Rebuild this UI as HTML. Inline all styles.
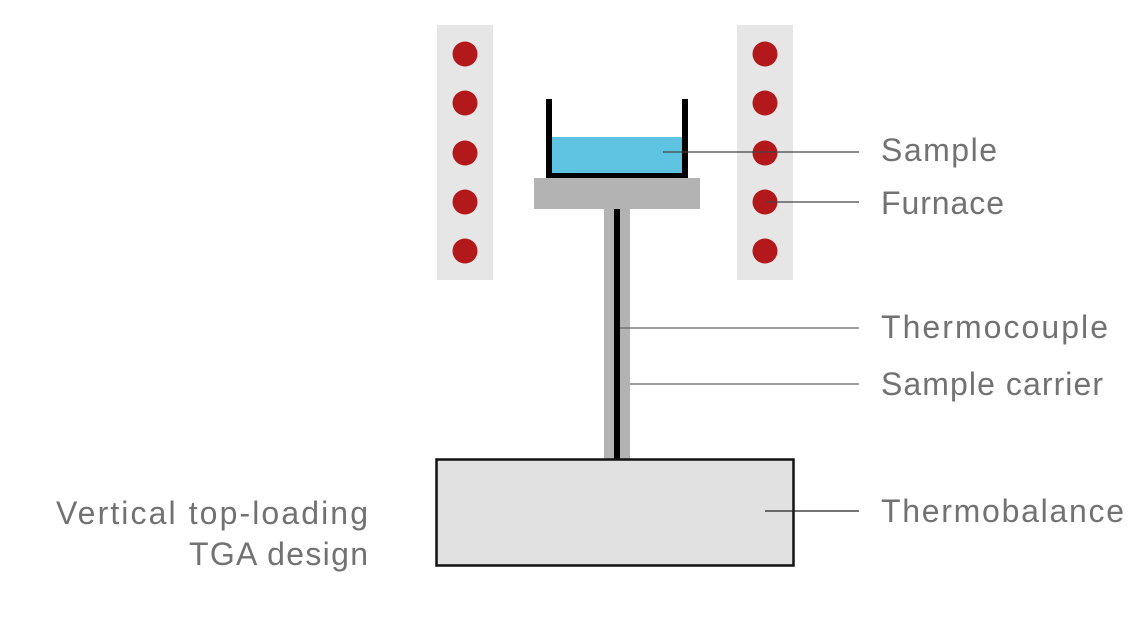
<!DOCTYPE html>
<html><head><meta charset="utf-8"><style>
html,body{margin:0;padding:0;background:#fff;}
svg{display:block;}
text{font-family:"Liberation Sans",sans-serif;font-size:32px;fill:#727272;}
</style></head><body>
<svg width="1140" height="633" viewBox="0 0 1140 633" xmlns="http://www.w3.org/2000/svg">
<rect x="0" y="0" width="1140" height="633" fill="#ffffff"/>
<!-- furnace bars -->
<rect x="437" y="25" width="56" height="255" fill="#e6e6e6"/>
<rect x="737" y="25" width="56" height="255" fill="#e6e6e6"/>
<g fill="#b3191b">
<circle cx="465" cy="54" r="12.5"/><circle cx="465" cy="103" r="12.5"/><circle cx="465" cy="153" r="12.5"/><circle cx="465" cy="202" r="12.5"/><circle cx="465" cy="251" r="12.5"/>
<circle cx="765" cy="54" r="12.5"/><circle cx="765" cy="103" r="12.5"/><circle cx="765" cy="153" r="12.5"/><circle cx="765" cy="202" r="12.5"/><circle cx="765" cy="251" r="12.5"/>
</g>
<!-- sample liquid -->
<rect x="552" y="137" width="130" height="36" fill="#5ec3e0"/>
<!-- crucible -->
<rect x="546" y="99" width="6" height="79" fill="#000"/>
<rect x="682" y="99" width="6" height="79" fill="#000"/>
<rect x="546" y="173" width="142" height="5" fill="#000"/>
<!-- platform -->
<rect x="534" y="178" width="166" height="31" fill="#b3b3b3"/>
<!-- rod -->
<rect x="604" y="209" width="26" height="251" fill="#b3b3b3"/>
<rect x="614" y="209" width="6" height="251" fill="#000"/>
<!-- thermobalance box -->
<rect x="436.5" y="459.5" width="357" height="106" fill="#e1e1e1" stroke="#111" stroke-width="2.5"/>
<!-- connectors -->
<g stroke="#444" stroke-width="1.3">
<line x1="663" y1="152" x2="859" y2="152"/>
<line x1="765" y1="202" x2="859" y2="202"/>
<line x1="620" y1="328" x2="859" y2="328" stroke="#666"/>
<line x1="630" y1="384" x2="859" y2="384" stroke="#666"/>
<line x1="765" y1="511" x2="859" y2="511" stroke="#222"/>
</g>
<!-- labels -->
<text x="881" y="161" textLength="116" lengthAdjust="spacing">Sample</text>
<text x="881" y="214" textLength="123" lengthAdjust="spacing">Furnace</text>
<text x="881" y="338" textLength="227" lengthAdjust="spacing">Thermocouple</text>
<text x="881" y="395" textLength="222" lengthAdjust="spacing">Sample carrier</text>
<text x="881" y="522" textLength="243" lengthAdjust="spacing">Thermobalance</text>
<text x="56" y="524" textLength="312" lengthAdjust="spacing">Vertical top-loading</text>
<text x="189" y="565" textLength="179" lengthAdjust="spacing">TGA design</text>
</svg>
</body></html>
